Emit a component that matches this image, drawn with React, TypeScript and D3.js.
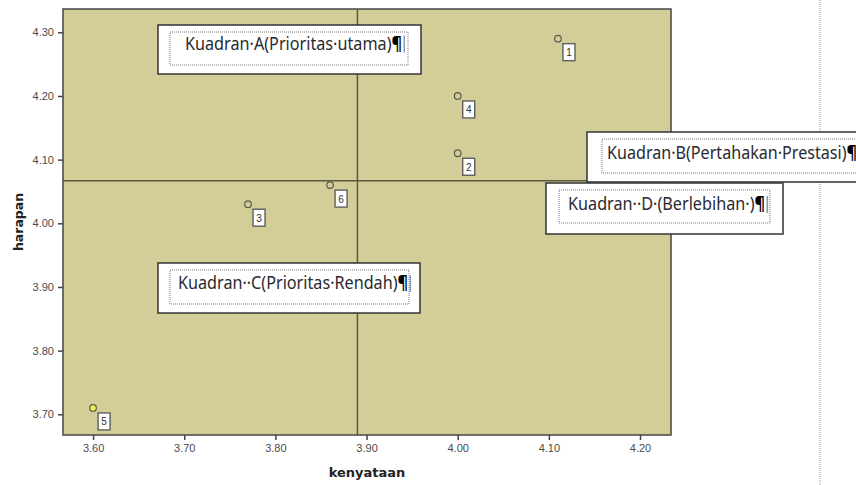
import React, { useEffect, useRef } from 'react';
import * as d3 from 'd3';

// data
const pointIds = ['1', '2', '3', '4', '5', '6'];
const kenyataan = [4.11, 4.0, 3.77, 4.0, 3.6, 3.86];
const harapan = [4.29, 4.11, 4.03, 4.2, 3.71, 4.06];
const highlighted = ['5'];

const xTicks = [3.6, 3.7, 3.8, 3.9, 4.0, 4.1, 4.2];
const yTicks = [3.7, 3.8, 3.9, 4.0, 4.1, 4.2, 4.3];
const xDomain = [3.567, 4.234];
const yDomain = [3.6675, 4.3366];

// quadrant split lines (mean values)
const meanKenyataan = 3.89;
const meanHarapan = 4.067;

const quadrantLabels = [
  'Kuadran·A(Prioritas·utama)',
  'Kuadran·B(Pertahakan·Prestasi)',
  'Kuadran··C(Prioritas·Rendah)',
  'Kuadran··D·(Berlebihan·)',
];

// text box placement (word-style overlay boxes)
const boxLayout = [
  { x: 158, y: 25, w: 263, h: 49, ix: 170, iy: 32, iw: 238, ih: 33, tx: 185, ty: 49.5, len: 217, bar: true },
  { x: 587, y: 132, w: 290, h: 50, ix: 602, iy: 139, iw: 270, ih: 34, tx: 607, ty: 159, len: 250, bar: false },
  { x: 158, y: 263, w: 262, h: 50, ix: 170, iy: 270, iw: 239, ih: 34, tx: 178, ty: 289, len: 230, bar: true },
  { x: 546, y: 183, w: 237, h: 51, ix: 559, iy: 190, iw: 211, ih: 33, tx: 568, ty: 210, len: 197, bar: true },
];

const W = 856;
const H = 485;
const plot = { left: 63, top: 9, right: 671, bottom: 435 };

export default function App() {
  const ref = useRef<SVGSVGElement>(null);

  useEffect(() => {
    const svg = d3.select(ref.current);
    svg.selectAll('*').remove();

    const x = d3.scaleLinear().domain(xDomain).range([plot.left, plot.right]);
    const y = d3.scaleLinear().domain(yDomain).range([plot.bottom, plot.top]);

    svg.append('rect').attr('width', W).attr('height', H).attr('fill', '#fff');

    // page margin dotted line
    svg.append('line')
      .attr('x1', 820).attr('x2', 820).attr('y1', 0).attr('y2', H)
      .attr('stroke', '#9a9a9a').attr('stroke-width', 1).attr('stroke-dasharray', '1,1');

    svg.append('rect')
      .attr('x', plot.left).attr('y', plot.top)
      .attr('width', plot.right - plot.left).attr('height', plot.bottom - plot.top)
      .attr('fill', '#D3CE98');

    // quadrant lines
    svg.append('line')
      .attr('x1', x(meanKenyataan)).attr('x2', x(meanKenyataan))
      .attr('y1', plot.top).attr('y2', plot.bottom)
      .attr('stroke', '#5a5940').attr('stroke-width', 1.5);
    svg.append('line')
      .attr('x1', plot.left).attr('x2', plot.right)
      .attr('y1', y(meanHarapan)).attr('y2', y(meanHarapan))
      .attr('stroke', '#5a5940').attr('stroke-width', 1.5);

    svg.append('rect')
      .attr('x', plot.left).attr('y', plot.top)
      .attr('width', plot.right - plot.left).attr('height', plot.bottom - plot.top)
      .attr('fill', 'none').attr('stroke', '#454545').attr('stroke-width', 1.5);

    // axes
    const xAxis = svg.append('g')
      .attr('transform', `translate(0,${plot.bottom})`)
      .call(d3.axisBottom(x).tickValues(xTicks).tickFormat(d3.format('.2f')).tickSize(5).tickPadding(4));
    const yAxis = svg.append('g')
      .attr('transform', `translate(${plot.left},0)`)
      .call(d3.axisLeft(y).tickValues(yTicks).tickFormat(d3.format('.2f')).tickSize(5).tickPadding(4));
    [xAxis, yAxis].forEach(ax => {
      ax.select('.domain').remove();
      ax.selectAll('line').attr('stroke', '#444').attr('stroke-width', 1.5);
      ax.selectAll('text')
        .attr('fill', '#4a4a4a')
        .style('font-family', 'Liberation Sans, Arial, sans-serif')
        .style('font-size', '11px');
    });

    svg.append('text')
      .attr('x', 367).attr('y', 477)
      .attr('text-anchor', 'middle')
      .attr('fill', '#222')
      .style('font-family', 'DejaVu Sans, sans-serif')
      .style('font-weight', 'bold')
      .style('font-size', '13px')
      .text('kenyataan');

    svg.append('text')
      .attr('transform', 'translate(23,222) rotate(-90)')
      .attr('text-anchor', 'middle')
      .attr('fill', '#222')
      .style('font-family', 'DejaVu Sans, sans-serif')
      .style('font-weight', 'bold')
      .style('font-size', '12.5px')
      .text('harapan');

    // points
    const pts = pointIds.map((id, i) => ({ id, kx: kenyataan[i], hy: harapan[i] }));
    const g = svg.append('g');
    g.selectAll('circle')
      .data(pts)
      .enter()
      .append('circle')
      .attr('cx', d => x(d.kx))
      .attr('cy', d => y(d.hy))
      .attr('r', 3.3)
      .attr('fill', d => highlighted.includes(d.id) ? '#F3EC55' : '#D3CE98')
      .attr('stroke', '#5a5a50')
      .attr('stroke-width', 1.2);

    const lbl = g.selectAll('g.lbl')
      .data(pts)
      .enter()
      .append('g')
      .attr('class', 'lbl')
      .attr('transform', d => `translate(${x(d.kx) + 5},${y(d.hy) + 5})`);
    lbl.append('rect')
      .attr('width', 12).attr('height', 17)
      .attr('fill', '#fff').attr('stroke', '#5e5e5e').attr('stroke-width', 1.4);
    lbl.append('text')
      .attr('x', 6).attr('y', 12.5)
      .attr('text-anchor', 'middle')
      .attr('fill', '#333')
      .style('font-family', 'Liberation Sans, Arial, sans-serif')
      .style('font-size', '10px')
      .text(d => d.id);

    // quadrant text boxes
    const boxes = svg.selectAll('g.box')
      .data(quadrantLabels.map((t, i) => ({ t, ...boxLayout[i] })))
      .enter()
      .append('g')
      .attr('class', 'box');
    boxes.append('rect')
      .attr('x', d => d.x).attr('y', d => d.y).attr('width', d => d.w).attr('height', d => d.h)
      .attr('fill', '#fff').attr('stroke', '#333').attr('stroke-width', 1.5);
    boxes.append('rect')
      .attr('x', d => d.ix).attr('y', d => d.iy).attr('width', d => d.iw).attr('height', d => d.ih)
      .attr('fill', 'none').attr('stroke', '#777').attr('stroke-width', 1).attr('stroke-dasharray', '1,1');
    const txt = boxes.append('text')
      .attr('x', d => d.tx).attr('y', d => d.ty)
      .attr('textLength', d => d.len)
      .attr('lengthAdjust', 'spacingAndGlyphs')
      .style('font-family', 'Noto Sans, sans-serif')
      .style('font-size', '18px');
    txt.append('tspan').attr('fill', '#2a2a30').text(d => d.t);
    txt.append('tspan').attr('fill', '#000').style('font-weight', 'bold').text('¶');
    boxes.filter(d => d.bar)
      .append('rect')
      .attr('x', d => d.tx + d.len + 1.5)
      .attr('y', d => d.ty - 14)
      .attr('width', 1.5).attr('height', 17)
      .attr('fill', '#8c9cb4');
  }, []);

  return (
    <svg
      ref={ref}
      width={W}
      height={H}
      style={{ position: 'absolute', left: 0, top: 0, display: 'block' }}
    />
  );
}
